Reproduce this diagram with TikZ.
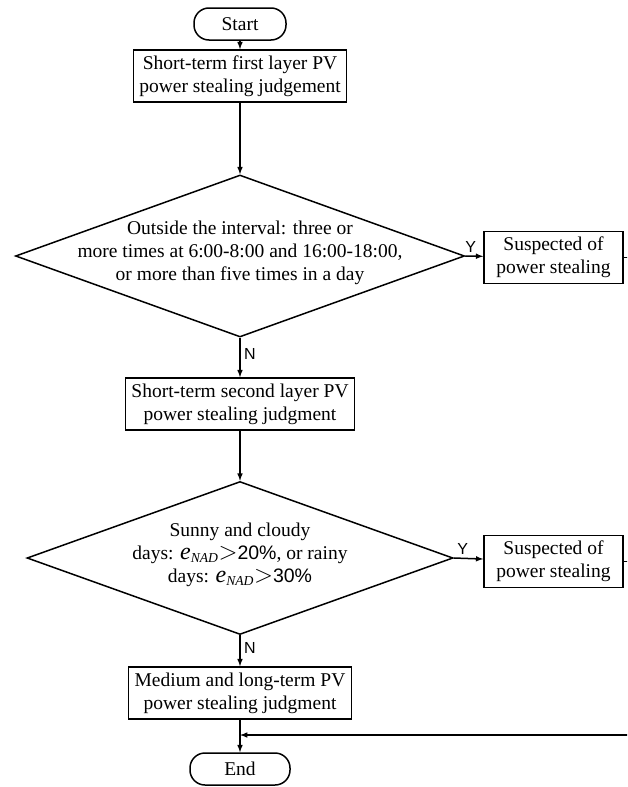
\documentclass[tikz,border=0pt]{standalone}
\usepackage{fontspec}
\setmainfont{Liberation Serif}
\newfontfamily\yesnofont{Liberation Sans}
\usetikzlibrary{shapes.geometric}
\newcommand{\enad}{{\fontsize{24}{22}\selectfont\itshape e}\textsubscript{\itshape NAD}{\fontsize{26}{22}\selectfont$>$}}
\tikzset{
  terminal/.style={draw, rounded corners=15pt, minimum width=92pt, minimum height=32pt},
  process/.style={draw, align=center, inner xsep=6pt, inner ysep=3pt, minimum height=52pt},
  decision/.style={draw, diamond, inner sep=0pt},
  branch/.style={font=\yesnofont\fontsize{16}{18}\selectfont},
}
\begin{document}
\begin{tikzpicture}[x=1pt, y=-1pt, line width=1.5pt, font=\fontsize{19.5}{23}\selectfont]
\useasboundingbox (0,0) rectangle (627,787);
\clip (0,0) rectangle (627,787);
\node[terminal] (start) at (240,24) {Start};
\node[process] (first) at (240,76) {Short-term first layer PV\\power stealing judgement};
\node[decision, minimum width=449pt, minimum height=162pt] (d1) at (240,256) {};
\node[align=center] (d1text) at (240,253) {Outside the interval: three or\\more times at 6:00-8:00 and 16:00-18:00,\\or more than five times in a day};
\node[process, minimum width=139pt, inner xsep=2pt] (s1) at (553.5,257.5) {Suspected of\\power stealing};
\node[process] (second) at (240,404) {Short-term second layer PV\\power stealing judgment};
\node[decision, minimum width=426pt, minimum height=153pt] (d2) at (240,558) {};
\node[align=center] (d2text) at (240,555) {Sunny and cloudy\\days: \enad{\yesnofont 20\%}, or rainy\\days: \enad{\yesnofont 30\%}};
\node[process, minimum width=139pt, inner xsep=2pt] (s2) at (553.5,561.5) {Suspected of\\power stealing};
\node[process] (longterm) at (240,693) {Medium and long-term PV\\power stealing judgment};
\node[terminal, minimum width=100pt] (end) at (240,769) {End};
\coordinate (back) at (640,735);
\coordinate (merge) at (240,735);
% main line
\draw[-latex] (start) -- (first);
\draw[-latex] (first) -- (d1);
\draw[-latex] (d1) -- node[branch, right, pos=0.4] {N} (second);
\draw[-latex] (second) -- (d2);
\draw[-latex] (d2) -- node[branch, right, pos=0.4] {N} (longterm);
\draw[-latex] (longterm) -- (end);
% suspected branches
\draw[-latex] (d1.east) -- node[branch, above, pos=0.3] {Y} (s1);
\draw[-latex] (d2.east) -- node[branch, above, pos=0.3] {Y} (s2);
\draw (s1.east) -- (back |- s1.east);
\draw (s2.east) -- (back |- s2.east);
\draw[-latex] (back) -- (merge);
\end{tikzpicture}
\end{document}
